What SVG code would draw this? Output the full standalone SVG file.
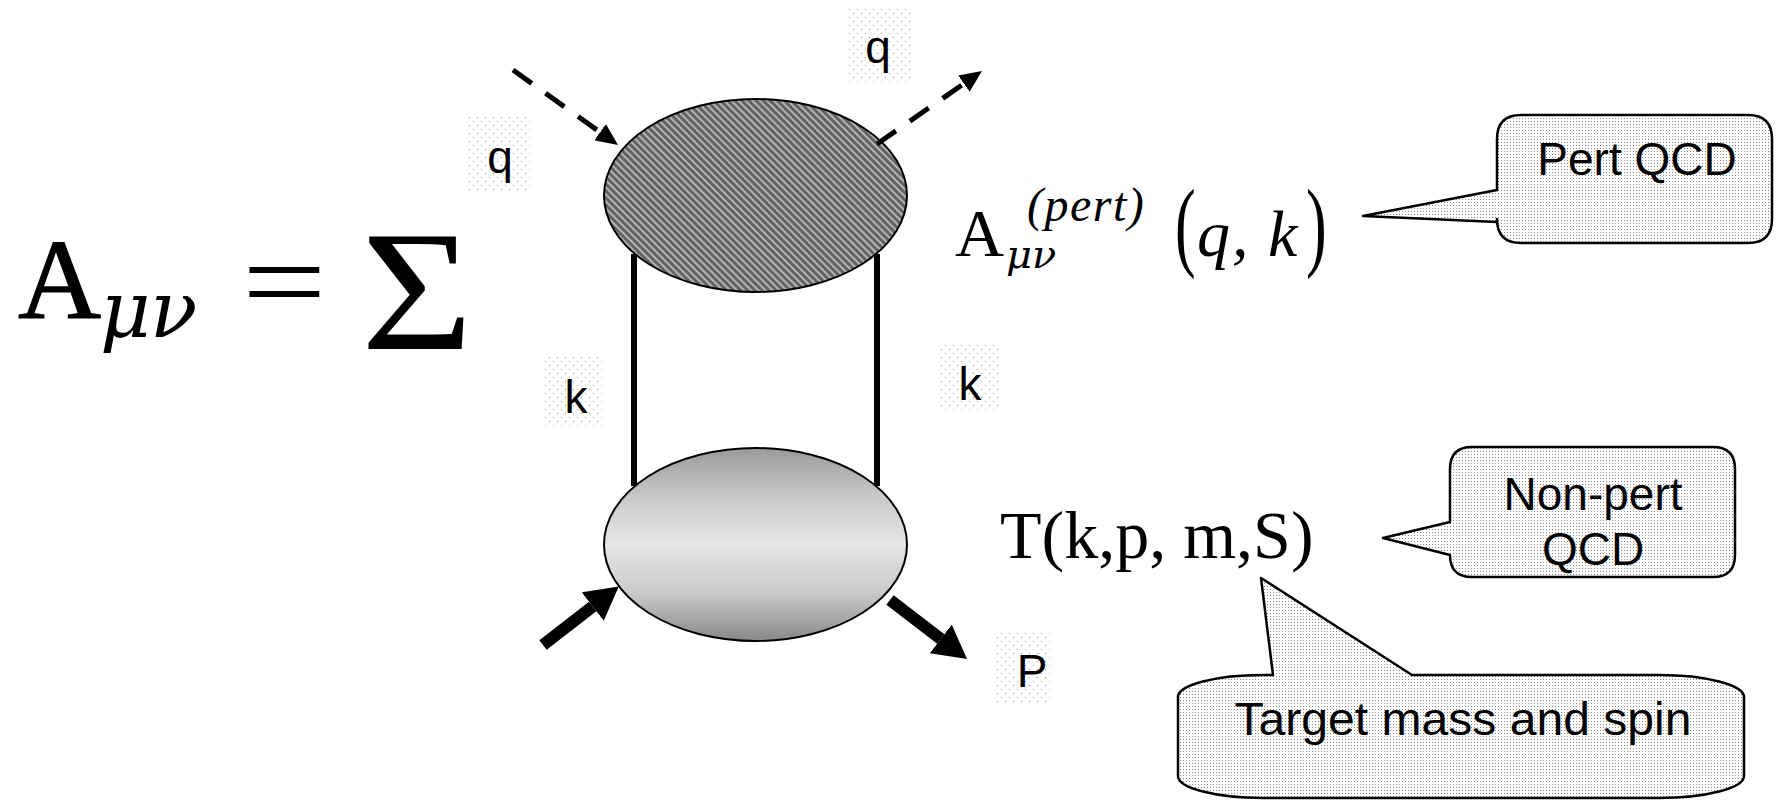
<svg xmlns="http://www.w3.org/2000/svg" width="1776" height="802" viewBox="0 0 1776 802">
<defs>
<style>
.lbl{font-family:"Liberation Sans",Arial,sans-serif;font-size:46px;fill:#000;text-anchor:middle}
.bub{font-family:"Liberation Sans",Arial,sans-serif;font-size:46px;fill:#000;text-anchor:middle}
.serif{font-family:"Liberation Serif","Times New Roman",serif;fill:#000}
.greek{font-family:"DejaVu Serif",serif;font-style:italic}
.it{font-style:italic}
.box{fill:url(#sparse)}
.bubble{fill:url(#dots);stroke:#000;stroke-width:2.5;stroke-linejoin:round}
.dash{fill:none;stroke:#000;stroke-width:5;stroke-dasharray:23 17}
.bold{fill:none;stroke:#000;stroke-width:12}
.prop{fill:none;stroke:#000;stroke-width:6}
</style>
<pattern id="hatch" width="5" height="5" patternUnits="userSpaceOnUse" patternTransform="rotate(-45)">
<rect width="5" height="5" fill="#636363"/>
<rect width="1.8" height="5" fill="#bcbcbc"/>
</pattern>
<linearGradient id="shade" x1="0" y1="0" x2="0" y2="1">
<stop offset="0" stop-color="#9a9a9a"/>
<stop offset="0.25" stop-color="#c8c8c8"/>
<stop offset="0.5" stop-color="#e6e6e6"/>
<stop offset="0.75" stop-color="#cacaca"/>
<stop offset="1" stop-color="#888888"/>
</linearGradient>
<pattern id="dots" width="3" height="3" patternUnits="userSpaceOnUse">
<rect width="3" height="3" fill="#fff"/>
<rect x="1" y="1" width="1" height="1" fill="#8a8a8a"/>
</pattern>
<pattern id="sparse" width="8" height="8" patternUnits="userSpaceOnUse">
<rect width="8" height="8" fill="#fff"/>
<rect x="1" y="1" width="1" height="1" fill="#aaa"/>
<rect x="5" y="5" width="1" height="1" fill="#888"/>
</pattern>
<marker id="headDash" markerUnits="userSpaceOnUse" markerWidth="22" markerHeight="20" refX="0" refY="10" orient="auto">
<path d="M0,0 L22,10 L0,20 Z" fill="#000"/>
</marker>
<marker id="headBold" markerUnits="userSpaceOnUse" markerWidth="33" markerHeight="36" refX="0" refY="18" orient="auto">
<path d="M0,0 L33,18 L0,36 Z" fill="#000"/>
</marker>
</defs>
<rect width="1776" height="802" fill="#fff"/>

<g id="formula-main" class="serif">
<text x="18" y="318" font-size="115" stroke="#000" stroke-width="1.2">A</text>
<text x="100" y="337" font-size="78" class="greek">μ</text>
<text x="150" y="337" font-size="78" class="greek">ν</text>
<text transform="translate(242,322) scale(1.25,1)" font-size="120">=</text>
<text transform="translate(361,349) scale(1.12,1)" font-size="172">Σ</text>
</g>

<g id="node-pert">
<ellipse cx="755.5" cy="195.5" rx="151.5" ry="96.5" fill="url(#hatch)" stroke="#000" stroke-width="2"/>
</g>
<g id="node-nonpert">
<ellipse cx="755.5" cy="544.5" rx="151.5" ry="96.5" fill="url(#shade)" stroke="#000" stroke-width="2"/>
</g>

<g id="label-q-in"><rect class="box" x="467" y="115" width="63" height="75"/><text class="lbl" x="500" y="173">q</text></g>
<g id="label-q-out"><rect class="box" x="848" y="8" width="62" height="75"/><text class="lbl" x="878" y="63">q</text></g>
<g id="label-k-left"><rect class="box" x="543" y="357" width="60" height="71"/><text class="lbl" x="576" y="413">k</text></g>
<g id="label-k-right"><rect class="box" x="940" y="342" width="60" height="71"/><text class="lbl" x="970" y="400">k</text></g>
<g id="label-p"><rect class="box" x="995" y="633" width="57" height="72"/><text class="lbl" x="1032" y="687">P</text></g>

<g id="formula-pert" class="serif">
<text x="955" y="256" font-size="68">A</text>
<text x="1006" y="268" font-size="40" class="greek">μν</text>
<text x="1027" y="221" font-size="48" class="it" letter-spacing="1.5">(pert)</text>
<text transform="translate(1175,258) scale(0.62,1)" font-size="100">(</text>
<text x="1197" y="256" font-size="66" class="it">q</text>
<text x="1232" y="256" font-size="66" class="it">,</text>
<text x="1268" y="256" font-size="66" class="it">k</text>
<text transform="translate(1306,258) scale(0.62,1)" font-size="100">)</text>
</g>

<g id="formula-T" class="serif">
<text x="1000" y="558" font-size="68">T(k,p, m,S)</text>
</g>

<g id="callout-pert">
<path class="bubble" d="M1521,115 H1748 Q1772,115 1772,139 V219 Q1772,243 1748,243 H1521 Q1497,243 1497,219 V222 L1363,216 L1497,190 V139 Q1497,115 1521,115 Z"/>
<text class="bub" x="1637" y="175">Pert QCD</text>
</g>

<g id="callout-nonpert">
<path class="bubble" d="M1472,447 H1713 Q1735,447 1735,469 V555 Q1735,577 1713,577 H1472 Q1450,577 1450,555 L1383,538 L1450,522 V469 Q1450,447 1472,447 Z"/>
<text class="bub" x="1593" y="510">Non-pert</text>
<text class="bub" x="1593" y="565">QCD</text>
</g>

<g id="callout-target">
<path class="bubble" d="M1263,675 H1273 L1261,578 L1412,675 H1659 A85,22 0 0 1 1744,697 V776 A85,22 0 0 1 1659,798 H1263 A85,22 0 0 1 1178,776 V697 A85,22 0 0 1 1263,675 Z"/>
<text class="bub" x="1463" y="735" textLength="457" lengthAdjust="spacingAndGlyphs">Target mass and spin</text>
</g>

<g id="connectors">
<line class="prop" x1="634" y1="254" x2="634" y2="486"/>
<line class="prop" x1="877" y1="254" x2="877" y2="486"/>
<line class="dash" x1="513" y1="70" x2="600.1" y2="132.2" marker-end="url(#headDash)"/>
<line class="dash" x1="877" y1="144" x2="963.9" y2="83.6" marker-end="url(#headDash)"/>
<line class="bold" x1="543" y1="645" x2="592.7" y2="606.6" marker-end="url(#headBold)"/>
<line class="bold" x1="890" y1="600" x2="940.8" y2="638.9" marker-end="url(#headBold)"/>
</g>
</svg>
